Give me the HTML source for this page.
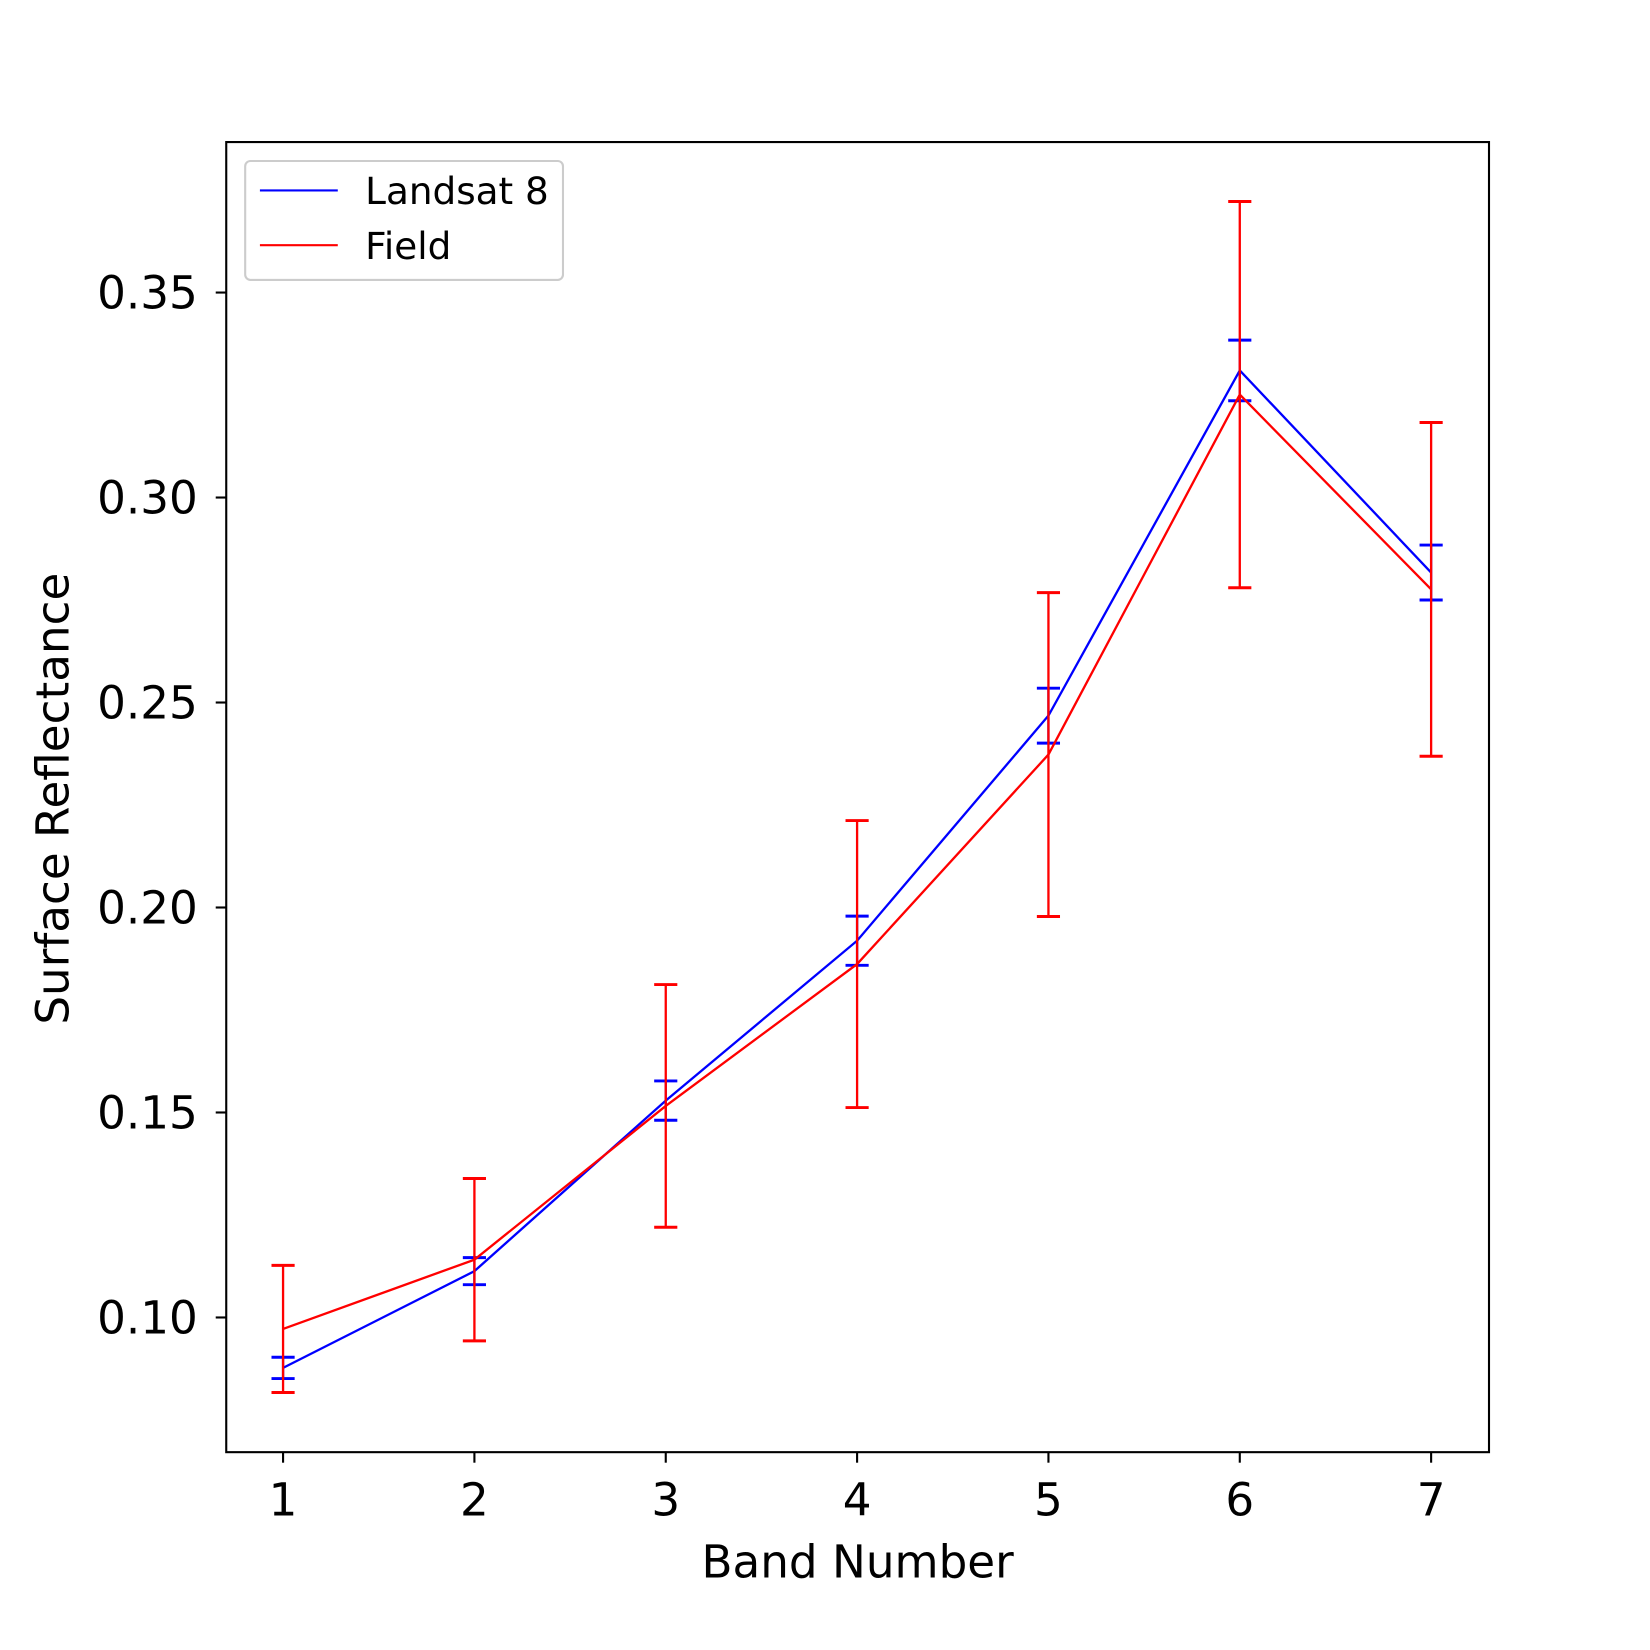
<!DOCTYPE html>
<html><head><meta charset="utf-8"><style>html,body{margin:0;padding:0;background:#fff}svg{display:block}text{font-family:"DejaVu Sans","Liberation Sans",sans-serif;fill:#000}</style></head>
<body>
<svg id="chart" width="1650" height="1650" viewBox="0 0 1568 1568" xmlns="http://www.w3.org/2000/svg">
<rect x="0" y="0" width="1568" height="1568" fill="#fff"/>
<g id="plot"></g>
<rect x="215" y="135" width="1200" height="1245" fill="none" stroke="#000" stroke-width="2"/>
<text x="815" y="1499" font-size="43" text-anchor="middle">Band Number</text>
<text transform="translate(65,759) rotate(-90)" font-size="43" text-anchor="middle">Surface Reflectance</text>
<g>
<rect x="233" y="153" width="302" height="113" rx="5" fill="#fff" stroke="#ccc" stroke-width="2"/>
<line x1="247" y1="181" x2="321" y2="181" stroke="#0000ff" stroke-width="2"/>
<text x="347" y="194" font-size="35.5">Landsat 8</text>
<line x1="247" y1="233" x2="321" y2="233" stroke="#ff0000" stroke-width="2"/>
<text x="347" y="246" font-size="35.5">Field</text>
</g>
</svg>
<script>
const bands=[1,2,3,4,5,6,7];
const landsatVals=[0.0877,0.1113,0.1529,0.1919,0.2468,0.3310,0.2817];
const landsatErr=[0.0026,0.0033,0.0048,0.0060,0.0067,0.0074,0.0067];
const fieldVals=[0.0972,0.1141,0.1516,0.1862,0.2373,0.3251,0.2776];
const fieldErr=[0.0155,0.0198,0.0296,0.0350,0.0395,0.0471,0.0407];
const yTicks=[0.10,0.15,0.20,0.25,0.30,0.35];
const yTickLabels=["0.10","0.15","0.20","0.25","0.30","0.35"];

const NS="http://www.w3.org/2000/svg";
const g=document.getElementById('plot');
function xs(b){return 269+(b-1)*(1360-269)/6;}
function ys(v){return 1252-(v-0.10)*(1252-278)/0.25;}
function mk(tag,attrs){const e=document.createElementNS(NS,tag);for(const k in attrs)e.setAttribute(k,attrs[k]);g.appendChild(e);return e;}

bands.forEach((b,i)=>{
  const t=mk('line',{x1:xs(b),x2:xs(b),y1:1380,y2:1390,stroke:'#000','stroke-width':2});
  
  
  const l=mk('text',{x:xs(b),y:1440,'font-size':43,'text-anchor':'middle'});
  l.textContent=String(b);
  
  
});
yTicks.forEach((v,i)=>{
  const t=mk('line',{x1:205,x2:215,y1:ys(v),y2:ys(v),stroke:'#000','stroke-width':2});
  
  
  const l=mk('text',{x:188,y:ys(v)+15,'font-size':43,'text-anchor':'end'});
  l.textContent=yTickLabels[i];
  
  
});

function series(vals,errs,color,name){
  vals.forEach((v,i)=>{
    const x=xs(bands[i]);
    const e=mk('line',{x1:x,x2:x,y1:ys(v-errs[i]),y2:ys(v+errs[i]),stroke:color,'stroke-width':2.2});
    
    
    [v-errs[i],v+errs[i]].forEach(c=>{
      const cap=mk('line',{x1:x-11,x2:x+11,y1:ys(c),y2:ys(c),stroke:color,'stroke-width':2.8});
      
      
    });
  });
  const p=mk('polyline',{points:vals.map((v,i)=>xs(bands[i])+','+ys(v)).join(' '),fill:'none',stroke:color,'stroke-width':2.2});
  
  
}
series(landsatVals,landsatErr,'#0000ff','landsat');
series(fieldVals,fieldErr,'#ff0000','field');
</script>
</body></html>
